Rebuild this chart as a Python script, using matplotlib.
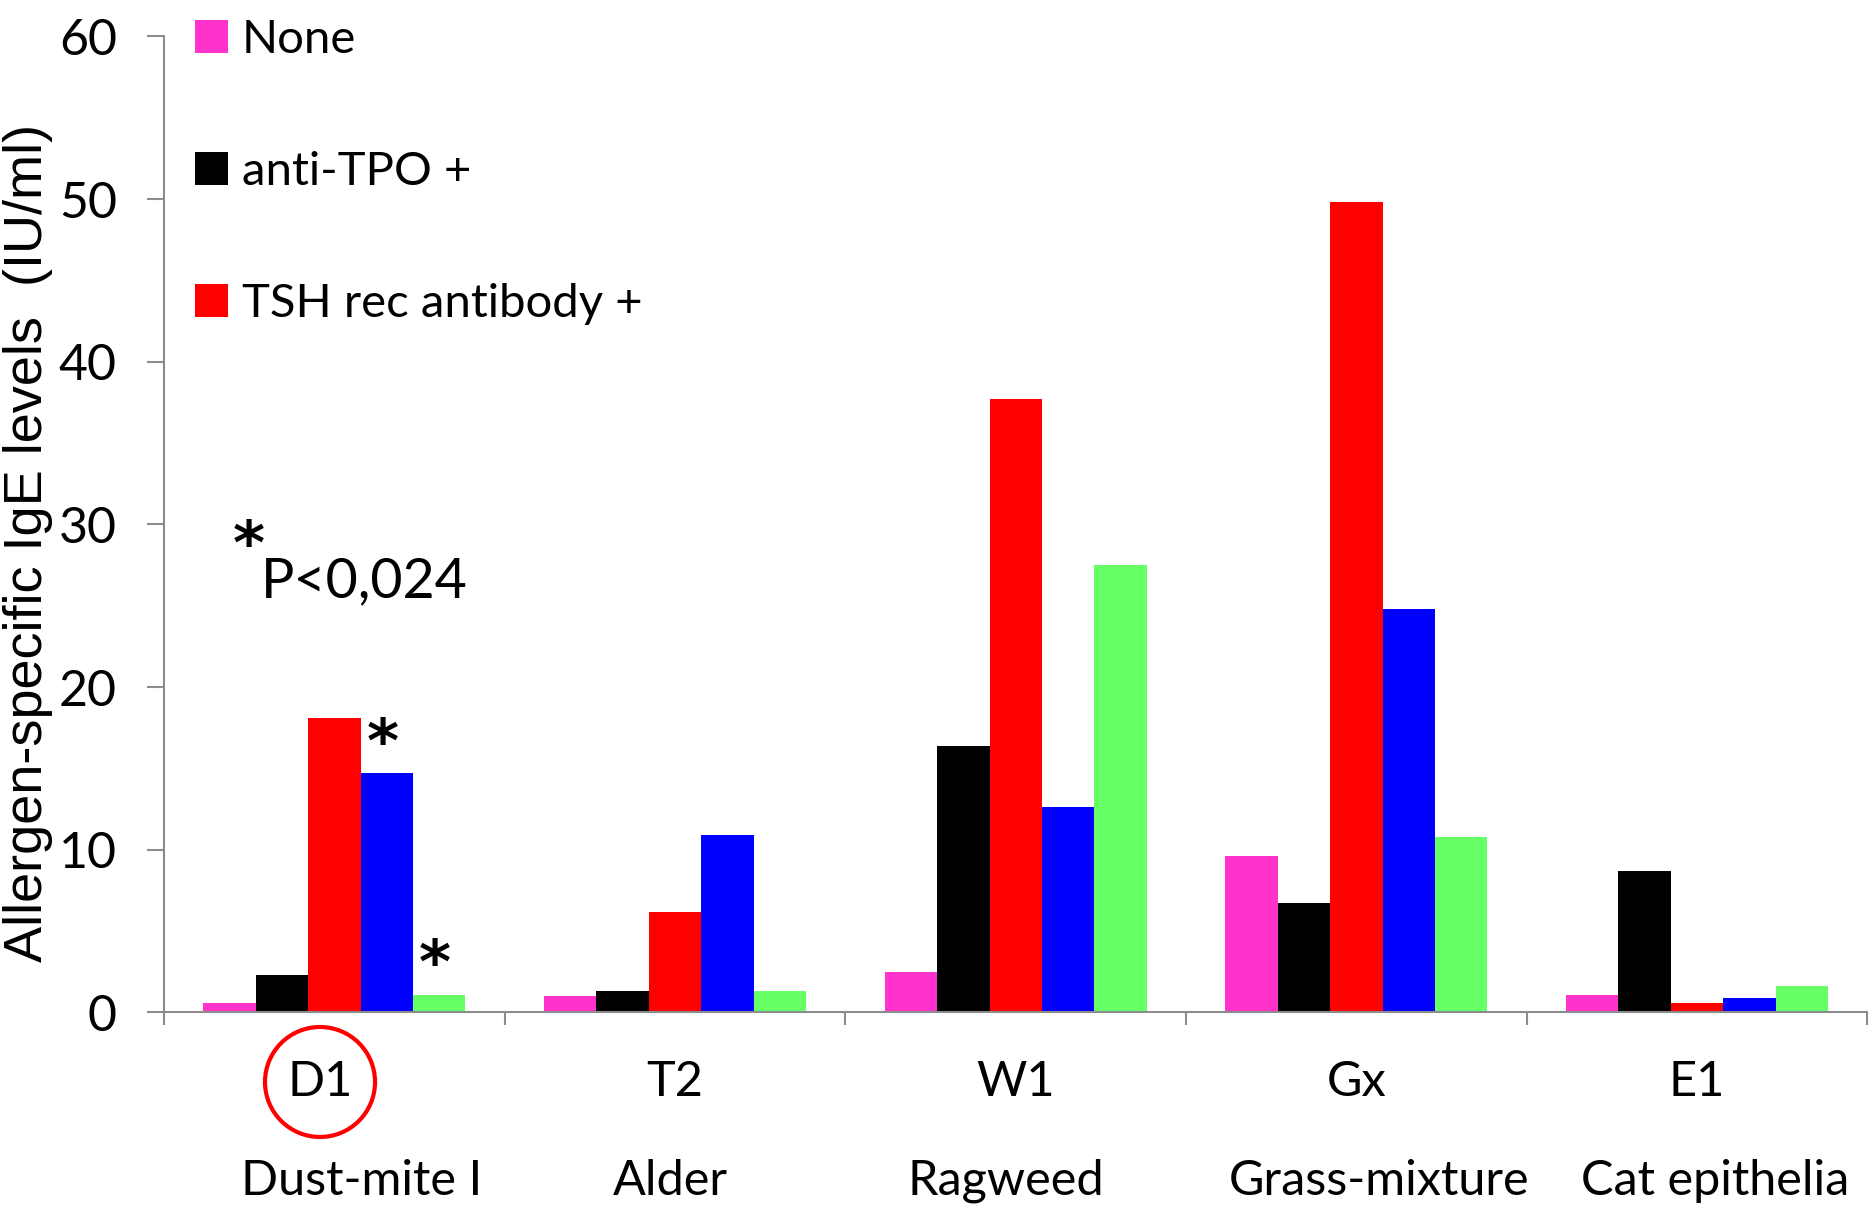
import numpy as np
import matplotlib
matplotlib.use("Agg")
import matplotlib.pyplot as plt
from matplotlib.patches import Patch, Ellipse

# data
codes = ["D1", "T2", "W1", "Gx", "E1"]
allergens = ["Dust-mite I", "Alder", "Ragweed", "Grass-mixture", "Cat epithelia"]
series_names = ["None", "anti-TPO +", "TSH rec antibody +", "series 4", "series 5"]
none_vals = [0.6, 1.0, 2.5, 9.6, 1.1]
tpo_vals = [2.3, 1.3, 16.4, 6.7, 8.7]
tsh_vals = [18.1, 6.2, 37.7, 49.8, 0.6]
s4_vals = [14.7, 10.9, 12.6, 24.8, 0.9]
s5_vals = [1.1, 1.3, 27.5, 10.8, 1.6]
colors = ["#FF33CC", "#000000", "#FF0000", "#0000FF", "#66FF66"]
yticks = [0, 10, 20, 30, 40, 50, 60]

# small horizontal nudges of the label text boxes (category units)
code_shift = [-0.042, 0, 0, 0, 0]
name_shift = [0.08, -0.014, -0.028, 0.067, 0.053]

font = "Lato"
gray = "#8c8c8c"

fig = plt.figure(figsize=(18.74, 12.11), dpi=100)
ax = fig.add_axes([0.0875, 0.164, 0.909, 0.806])

series = [none_vals, tpo_vals, tsh_vals, s4_vals, s5_vals]
x = np.arange(len(codes))
w = 1 / 6.5
bars = []
for i, vals in enumerate(series):
    b = ax.bar(x + (i - 2) * w, vals, width=w, color=colors[i], linewidth=0)
    bars.append(b)

ax.set_xlim(-0.5, len(codes) - 0.5)
ax.set_ylim(0, 60)
ax.set_yticks(yticks)
ax.set_yticklabels([str(t) for t in yticks], fontsize=36, family=font)
ax.tick_params(axis="y", length=12, width=1.5, color=gray, pad=22)
ax.set_xticks(np.arange(-0.5, len(codes)))
ax.set_xticklabels([])
ax.tick_params(axis="x", length=9.5, width=1.5, color=gray)

for s in ["top", "right"]:
    ax.spines[s].set_visible(False)
for s in ["left", "bottom"]:
    ax.spines[s].set_color(gray)
    ax.spines[s].set_linewidth(1.5)

# category labels
tr = ax.get_xaxis_transform()
for i, (c, a) in enumerate(zip(codes, allergens)):
    ax.text(x[i] + code_shift[i], -0.071, c, transform=tr, ha="center", va="center",
            fontsize=35, family=font)
    ax.text(x[i] + name_shift[i], -0.1726, a, transform=tr, ha="center", va="center",
            fontsize=35, family=font)

# red circle around D1
ax.add_patch(Ellipse((0.0916, -0.0713), 0.0646, 0.1127, transform=ax.transAxes,
                     fill=False, edgecolor="#FF0000", linewidth=3, clip_on=False))

# significance stars
star_kw = dict(fontsize=44, fontweight="bold", family="DejaVu Sans")
for bi in [3, 4]:
    rect = bars[bi][0]
    ax.annotate("*", (rect.get_x() + rect.get_width() / 2, rect.get_height()),
                xytext=(-3, 20), textcoords="offset points", ha="center", va="center",
                **star_kw)
ax.text(0.0497, 0.476, "*", transform=ax.transAxes, ha="center", va="center", **star_kw)
ax.text(0.0566, 0.4407, "P<0,024", transform=ax.transAxes, ha="left", va="center",
        fontsize=40, family=font)

# legend (only first three series are labelled)
handles = [Patch(facecolor=colors[i], edgecolor="none") for i in range(3)]
fig.legend(handles, series_names[:3], loc="upper left", bbox_to_anchor=(0.104, 0.984),
           frameon=False, prop={"family": font, "size": 34}, handlelength=0.7,
           handleheight=0.7, handletextpad=0.3, labelspacing=1.9,
           borderpad=0, borderaxespad=0)

fig.text(0.015, 0.552, "Allergen-specific IgE levels  (IU/ml)", rotation=90,
         ha="center", va="center", fontsize=39, family="Liberation Sans")

fig.savefig("out.png", dpi=100)
